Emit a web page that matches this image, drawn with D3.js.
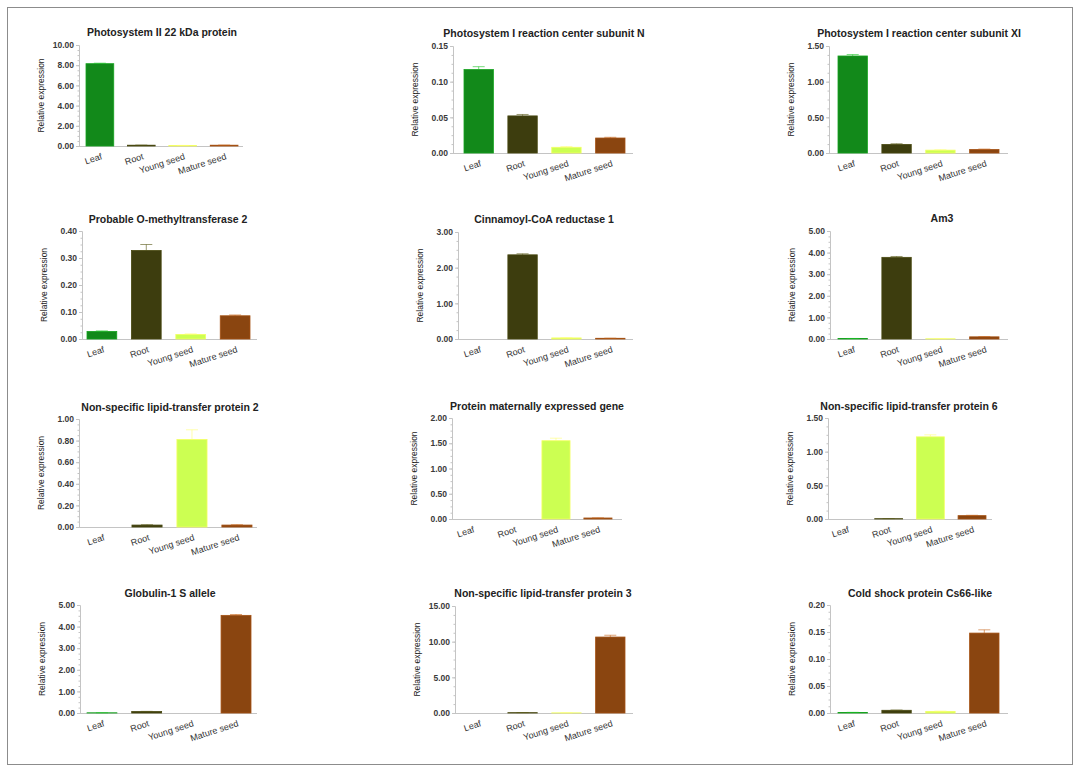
<!DOCTYPE html>
<html>
<head>
<meta charset="utf-8">
<script src="https://cdn.jsdelivr.net/npm/d3@7"></script>
<style>
body{margin:0;background:#fff;}
svg{display:block;font-family:"Liberation Sans",Arial,sans-serif;}
</style>
</head>
<body>
<svg id="chart" width="1081" height="773"></svg>
<script>
const categories = ["Leaf", "Root", "Young seed", "Mature seed"];
const colors = ["#12891a", "#3d3d0e", "#ccff52", "#8a4510"];
const titles = [
  "Photosystem II 22 kDa protein",
  "Photosystem I reaction center subunit N",
  "Photosystem I reaction center subunit XI",
  "Probable O-methyltransferase 2",
  "Cinnamoyl-CoA reductase 1",
  "Am3",
  "Non-specific lipid-transfer protein 2",
  "Protein maternally expressed gene",
  "Non-specific lipid-transfer protein 6",
  "Globulin-1 S allele",
  "Non-specific lipid-transfer protein 3",
  "Cold shock protein Cs66-like"
];
// relative expression (Leaf, Root, Young seed, Mature seed)
const psII22 = [8.15, 0.08, 0.05, 0.08];
const psIN = [0.117, 0.052, 0.008, 0.021];
const psIXI = [1.36, 0.12, 0.04, 0.05];
const omt2 = [0.028, 0.328, 0.017, 0.086];
const ccr1 = [0.0, 2.36, 0.03, 0.02];
const am3 = [0.02, 3.78, 0.01, 0.10];
const nsltp2 = [0.0, 0.018, 0.81, 0.018];
const meg = [0.0, 0.0, 1.55, 0.02];
const nsltp6 = [0.0, 0.005, 1.22, 0.05];
const glob1 = [0.01, 0.07, 0.0, 4.52];
const nsltp3 = [0.0, 0.05, 0.02, 10.65];
const cs66 = [0.001, 0.005, 0.003, 0.148];
// error bar sizes
const psII22Err = [0.05, 0.01, 0.01, 0.01];
const psINErr = [0.004, 0.002, 0.001, 0.001];
const psIXIErr = [0.02, 0.01, 0.005, 0.005];
const omt2Err = [0.002, 0.022, 0.002, 0.003];
const ccr1Err = [0.0, 0.03, 0.005, 0.003];
const am3Err = [0.005, 0.04, 0.002, 0.01];
const nsltp2Err = [0.0, 0.003, 0.09, 0.003];
const megErr = [0.0, 0.0, 0.05, 0.003];
const nsltp6Err = [0.0, 0.001, 0.03, 0.005];
const glob1Err = [0.002, 0.005, 0.0, 0.04];
const nsltp3Err = [0.0, 0.005, 0.002, 0.25];
const cs66Err = [0.0002, 0.0005, 0.0005, 0.006];
const yMax = [10, 0.15, 1.5, 0.4, 3, 5, 1, 2, 1.5, 5, 15, 0.2];
const yStep = [2, 0.05, 0.5, 0.1, 1, 1, 0.2, 0.5, 0.5, 1, 5, 0.05];

const seriesValues = [psII22, psIN, psIXI, omt2, ccr1, am3, nsltp2, meg, nsltp6, glob1, nsltp3, cs66];
const seriesErrors = [psII22Err, psINErr, psIXIErr, omt2Err, ccr1Err, am3Err, nsltp2Err, megErr, nsltp6Err, glob1Err, nsltp3Err, cs66Err];

// layout: axis x, axis end, band start, band end, top y, zero y, title x, title y
const layout = [
  {ax: 79, ae: 243, b0: 86, b1: 238, top: 45, zero: 146, tx: 162, ty: 36},
  {ax: 453, ae: 633, b0: 464, b1: 625, top: 46, zero: 153, tx: 544, ty: 37},
  {ax: 829, ae: 1008, b0: 838, b1: 999, top: 46, zero: 153, tx: 919, ty: 37},
  {ax: 82, ae: 257, b0: 87, b1: 250, top: 231, zero: 339, tx: 168, ty: 223},
  {ax: 458, ae: 633, b0: 464, b1: 625, top: 232, zero: 339, tx: 544, ty: 223},
  {ax: 830, ae: 1008, b0: 838, b1: 999, top: 231, zero: 339, tx: 942, ty: 222},
  {ax: 79, ae: 257, b0: 87, b1: 252, top: 419, zero: 527, tx: 170, ty: 411},
  {ax: 452, ae: 622, b0: 458, b1: 612, top: 418, zero: 519, tx: 537, ty: 410},
  {ax: 828, ae: 992, b0: 833, b1: 986, top: 418, zero: 519, tx: 909, ty: 410},
  {ax: 80, ae: 257, b0: 87, b1: 251, top: 605, zero: 713, tx: 170, ty: 597},
  {ax: 455, ae: 633, b0: 464, b1: 625, top: 606, zero: 713, tx: 543, ty: 597},
  {ax: 830, ae: 1008, b0: 838, b1: 999, top: 605, zero: 713, tx: 920, ty: 597}
];

const svg = d3.select("#chart");
svg.append("rect").attr("x", 7.5).attr("y", 7.5).attr("width", 1065).attr("height", 757)
  .attr("fill", "none").attr("stroke", "#8c8c8c").attr("stroke-width", 1);

const fmt = d3.format(".2f");

seriesValues.forEach((vals, i) => {
  const L = layout[i];
  const g = svg.append("g");
  const x = d3.scaleBand().domain(categories).range([L.b0, L.b1]).paddingInner(0.33).paddingOuter(0);
  const y = d3.scaleLinear().domain([0, yMax[i]]).range([L.zero, L.top]);
  const ticks = d3.range(0, yMax[i] + yStep[i] / 2, yStep[i]);
  const minor = d3.range(0, yMax[i] + 1e-9, yStep[i] / 4);

  // minor ticks
  g.selectAll(".minor").data(minor).join("line")
    .attr("x1", L.ax - 1.5).attr("x2", L.ax)
    .attr("y1", d => y(d) + 0.5).attr("y2", d => y(d) + 0.5)
    .attr("stroke", "#c4c4c4").attr("stroke-width", 1);

  const yAxis = d3.axisLeft(y).tickValues(ticks).tickFormat(fmt).tickSize(3).tickPadding(2);
  const ya = g.append("g").attr("transform", `translate(${L.ax},0)`).call(yAxis);
  ya.select(".domain").attr("stroke", "#c4c4c4");
  ya.selectAll(".tick line").attr("stroke", "#c4c4c4");
  ya.selectAll(".tick text").attr("fill", "#3a3a3a").style("font-size", "8.5px").style("font-weight", "bold");

  // x axis line
  const xa = g.append("g").attr("transform", `translate(0,${L.zero})`)
    .call(d3.axisBottom(x).tickSize(0).tickFormat(d => d));
  xa.select(".domain").attr("d", `M${L.ax},0.5H${L.ae}`).attr("stroke", "#c4c4c4");
  xa.selectAll(".tick text")
    .attr("fill", "#333")
    .style("font-size", "9px")
    .attr("text-anchor", "end")
    .attr("dy", null)
    .attr("y", 0)
    .attr("transform", `translate(${x.bandwidth() * 0.1},13) rotate(-18)`);

  // bars
  g.selectAll(".bar").data(vals).join("rect")
    .attr("x", (d, j) => x(categories[j]))
    .attr("width", x.bandwidth())
    .attr("y", d => y(d))
    .attr("height", d => Math.max(0, L.zero - y(d)))
    .attr("fill", (d, j) => colors[j])
    .attr("stroke", (d, j) => d3.color(colors[j]).brighter(0.5))
    .attr("stroke-width", 0.8);

  // error bars
  const errs = seriesErrors[i];
  g.selectAll(".err").data(vals).join("path")
    .attr("d", (d, j) => {
      const cx = x(categories[j]) + x.bandwidth() / 2;
      const y0 = y(d), y1 = y(d + errs[j]);
      return `M${cx},${y0}V${y1}M${cx - 6},${y1}H${cx + 6}`;
    })
    .attr("fill", "none")
    .attr("stroke", (d, j) => d3.color(colors[j]).brighter(1))
    .attr("stroke-width", 1)
    .attr("opacity", (d, j) => errs[j] > 0 ? 0.6 : 0);

  // y label
  g.append("text")
    .attr("transform", `translate(${L.ax - 35},${(L.top + L.zero) / 2}) rotate(-90)`)
    .attr("text-anchor", "middle")
    .attr("fill", "#222")
    .style("font-size", "8.5px")
    .text("Relative expression");

  // title
  g.append("text")
    .attr("x", L.tx).attr("y", L.ty)
    .attr("text-anchor", "middle")
    .attr("fill", "#222")
    .style("font-size", "10.5px")
    .style("font-weight", "bold")
    .text(titles[i]);
});
</script>
</body>
</html>
